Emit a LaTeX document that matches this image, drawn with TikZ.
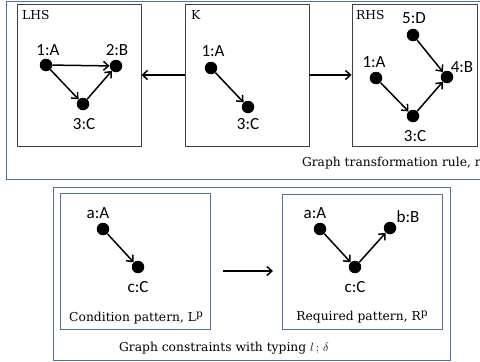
\documentclass[tikz,border=0pt]{standalone}
\usepackage{fontspec}
\setmainfont{DejaVu Serif}
\newfontfamily\lblfont{Carlito}
\usetikzlibrary{arrows.meta}
\definecolor{framecol}{RGB}{84,110,160}
\newcommand{\supp}[1]{\raisebox{0.75ex}{\fontsize{10.5}{10.5}\selectfont #1}}
\tikzset{
  dot/.style={circle,fill=black,inner sep=0pt,minimum size=12.5pt},
  lbl/.style={font=\lblfont\fontsize{17}{17}\selectfont,inner sep=0pt},
  ttl/.style={font=\fontsize{12.3}{14}\selectfont,inner sep=0pt},
  edge/.style={line width=1.5pt,-{Straight Barb[length=5pt,width=9pt,line width=1.5pt]}},
  gbox/.style={draw=black!75,line width=0.85pt},
  bbox/.style={draw=framecol,line width=0.85pt},
}
\begin{document}
\begin{tikzpicture}[x=1pt,y=-1pt]
\useasboundingbox (0,0) rectangle (480,362);
% top frame
\draw[bbox] (6,1) rectangle (484,179);
\node[gbox,minimum width=124pt,minimum height=142pt,inner sep=0pt] (lhs) at (79,75) {};
\node[gbox,minimum width=124pt,minimum height=142pt,inner sep=0pt] (k) at (247,75) {};
\node[gbox,minimum width=125pt,minimum height=142pt,inner sep=0pt] (rhs) at (414.5,75) {};
\node[ttl,anchor=west] (tl) at (22,15) {LHS};
\node[ttl,anchor=west] (tk) at (191,15) {K};
\node[ttl,anchor=west] (tr) at (356,15) {RHS};
% LHS graph
\node[dot] (la) at (46,65) {};
\node[dot] (lb) at (116,66) {};
\node[dot] (lc) at (83,104) {};
\node[lbl] (lla) at (48,50) {1:A};
\node[lbl] (llb) at (117,50) {2:B};
\node[lbl] (llc) at (84,124) {3:C};
\draw[edge] (la) -- (lb);
\draw[edge] (la) -- (lc);
\draw[edge] (lc) -- (lb);
% K graph
\node[dot] (ka) at (211,68) {};
\node[dot] (kc) at (248,107) {};
\node[lbl] (kla) at (213,51) {1:A};
\node[lbl] (klc) at (248,124) {3:C};
\draw[edge] (ka) -- (kc);
% RHS graph
\node[dot] (rd) at (413,35) {};
\node[dot] (ra) at (376,78) {};
\node[dot] (rb) at (447,77) {};
\node[dot] (rc) at (413,116) {};
\node[lbl] (rld) at (414,18) {5:D};
\node[lbl] (rla) at (374,62) {1:A};
\node[lbl] (rlb) at (462,67) {4:B};
\node[lbl] (rlc) at (415,136) {3:C};
\draw[edge] (rd) -- (rb);
\draw[edge] (ra) -- (rc);
\draw[edge] (rc) -- (rb);
% morphisms
\draw[edge] (k.west |- 0,75) -- (lhs.east |- 0,75);
\draw[edge] (k.east |- 0,75) -- (rhs.west |- 0,75);
\node[ttl,anchor=east] (rule) at (481,163) {Graph transformation rule, r};
% bottom frame
\draw[bbox] (53,187) rectangle (450,360);
\node[bbox,minimum width=150pt,minimum height=136pt,inner sep=0pt] (cond) at (135,261) {};
\node[bbox,minimum width=160pt,minimum height=135pt,inner sep=0pt] (req) at (362,261.5) {};
\node[dot] (pa) at (103,229) {};
\node[dot] (pc) at (138,267) {};
\node[lbl] (pla) at (98,213) {a:A};
\node[lbl] (plc) at (138,287) {c:C};
\draw[edge] (pa) -- (pc);
\node[dot] (qa) at (320,229) {};
\node[dot] (qc) at (355,267) {};
\node[dot] (qb) at (390,228) {};
\node[lbl] (qla) at (315,213) {a:A};
\node[lbl] (qlc) at (355,287) {c:C};
\node[lbl] (qlb) at (408,217) {b:B};
\draw[edge] (qa) -- (qc);
\draw[edge] (qc) -- (qb);
\coordinate (m1) at (223,271);
\coordinate (m2) at (273,271);
\draw[edge] (m1) -- (m2);
\node[ttl] (cl) at (136,318) {Condition pattern, L\supp{p}};
\node[ttl] (rl) at (362,317) {Required pattern, R\supp{p}};
\node[ttl] (gc) at (224,348) {Graph constraints with typing $l\,;\,\delta$};
\end{tikzpicture}
\end{document}
